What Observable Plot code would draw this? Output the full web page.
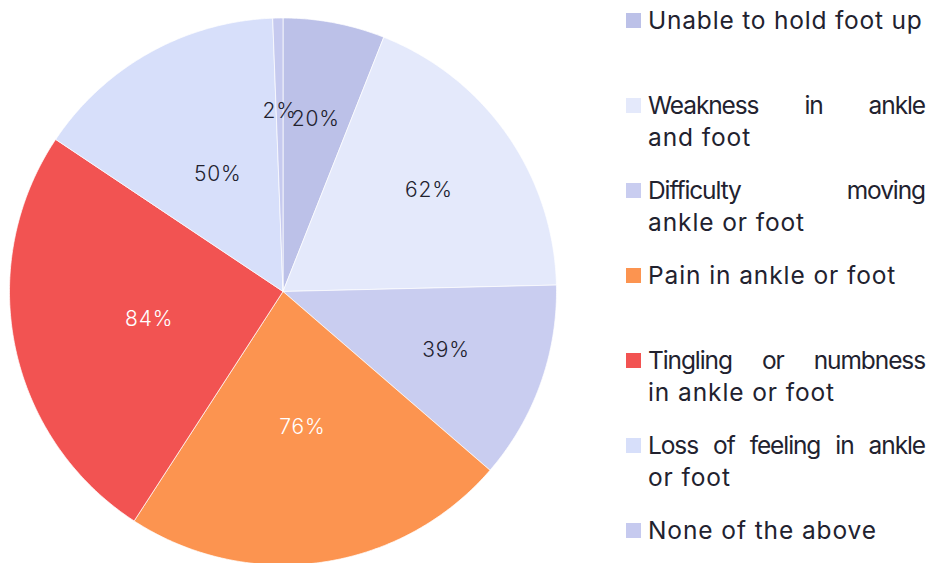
<!DOCTYPE html>
<html>
<head>
<meta charset="utf-8">
<script src="https://cdn.jsdelivr.net/npm/d3@7"></script>
<script src="https://cdn.jsdelivr.net/npm/@observablehq/plot@0.6"></script>
<style>
  html, body { margin: 0; padding: 0; background: #fff; }
  #wrap { position: relative; width: 930px; height: 563px; overflow: hidden; font-family: Inter, "Open Sans", sans-serif; }
  #chart { position: absolute; left: 0; top: 0; }
  .item { position: absolute; left: 626px; width: 304px; color: #22222f; font-size: 24.5px; line-height: 32px; letter-spacing: 0.9px; }
  .sw { position: absolute; left: 0; width: 15px; height: 15px; }
  .txt { position: absolute; left: 22px; width: 277px; }
  .ln { white-space: nowrap; overflow: visible; }
  .ln.j { text-align: justify; text-align-last: justify; }
</style>
</head>
<body>
<div id="wrap"><div id="chart"></div></div>
<script>
const categories = [
  "Unable to hold foot up",
  "Weakness in ankle and foot",
  "Difficulty moving ankle or foot",
  "Pain in ankle or foot",
  "Tingling or numbness in ankle or foot",
  "Loss of feeling in ankle or foot",
  "None of the above"
];
const values = [20, 62, 39, 76, 84, 50, 2];
const legendLines = [
  ["Unable to hold foot up"],
  ["Weakness in ankle", "and foot"],
  ["Difficulty moving", "ankle or foot"],
  ["Pain in ankle or foot"],
  ["Tingling or numbness", "in ankle or foot"],
  ["Loss of feeling in ankle", "or foot"],
  ["None of the above"]
];
const sliceColors = ["#bcc1e8", "#e4e9fb", "#c9cdf0", "#fc9450", "#f25352", "#d7dffa", "#c6caef"];
const labelInk = ["#22222f", "#22222f", "#22222f", "#ffffff", "#ffffff", "#22222f", "#22222f"];
// label distance from the centre, as a fraction of the radius (layout, as placed in the original)
const labelRadius = [0.64, 0.65, 0.633, 0.50, 0.50, 0.49, 0.66];

const rows = categories.map((c, i) => ({category: c, value: values[i], ink: labelInk[i], lr: labelRadius[i]}));
const arcs = d3.pie().sort(null).value(d => d.value)(rows);

// polygon outline of each slice (center + arc), angle measured clockwise from 12 o'clock
const outline = [];
for (const a of arcs) {
  const n = Math.max(2, Math.ceil((a.endAngle - a.startAngle) / 0.01));
  outline.push({category: a.data.category, px: 0, py: 0});
  for (let k = 0; k <= n; k++) {
    const t = a.startAngle + (a.endAngle - a.startAngle) * k / n;
    outline.push({category: a.data.category, px: Math.sin(t), py: Math.cos(t)});
  }
  outline.push({category: a.data.category, px: 0, py: 0});
}
const labels = arcs.map(a => {
  const m = (a.startAngle + a.endAngle) / 2;
  const r = a.data.lr;
  return {text: a.data.value + "%", ink: a.data.ink, px: r * Math.sin(m), py: r * Math.cos(m)};
});

const R = 273.5, cx = 282.5, cy = 291;
const plot = Plot.plot({
  width: 930,
  height: 563,
  margin: 0,
  x: {domain: [-1, 1], range: [cx - R, cx + R], axis: null},
  y: {domain: [-1, 1], range: [cy + R, cy - R], axis: null},
  color: {domain: categories, range: sliceColors},
  style: {fontFamily: "Inter, 'Open Sans', sans-serif", background: "transparent"},
  marks: [
    Plot.line(outline, {x: "px", y: "py", z: "category", fill: "category", stroke: "#ffffff", strokeWidth: 1, strokeOpacity: 0.7, curve: "linear"}),
    Plot.text(labels, {x: "px", y: "py", text: "text", fill: "ink", fontSize: 21, fontWeight: 300})
  ]
});
plot.querySelectorAll("text").forEach(t => t.style.letterSpacing = "0.8px");
document.getElementById("chart").appendChild(plot);

// legend
const wrap = document.getElementById("wrap");
legendLines.forEach((lines, i) => {
  const baseline = 28 + i * 85;
  const item = document.createElement("div");
  item.className = "item";
  item.style.top = (baseline - 24) + "px";
  const sw = document.createElement("div");
  sw.className = "sw";
  sw.style.background = sliceColors[i];
  sw.style.top = (24 - 15) + "px";
  item.appendChild(sw);
  const txt = document.createElement("div");
  txt.className = "txt";
  lines.forEach((l, k) => {
    const d = document.createElement("div");
    d.className = "ln" + (lines.length > 1 && k < lines.length - 1 ? " j" : "");
    d.textContent = l;
    txt.appendChild(d);
  });
  item.appendChild(txt);
  wrap.appendChild(item);
});
// tighten letter-spacing on any legend line that would run past the right edge
document.querySelectorAll(".ln").forEach(d => {
  let ls = 0.9;
  const probe = document.createElement("span");
  probe.textContent = d.textContent;
  probe.style.whiteSpace = "nowrap";
  d.textContent = "";
  d.appendChild(probe);
  while (probe.getBoundingClientRect().width > 276 && ls > -1) {
    ls -= 0.1;
    d.style.letterSpacing = ls + "px";
  }
  d.textContent = probe.textContent;
});
</script>
</body>
</html>
